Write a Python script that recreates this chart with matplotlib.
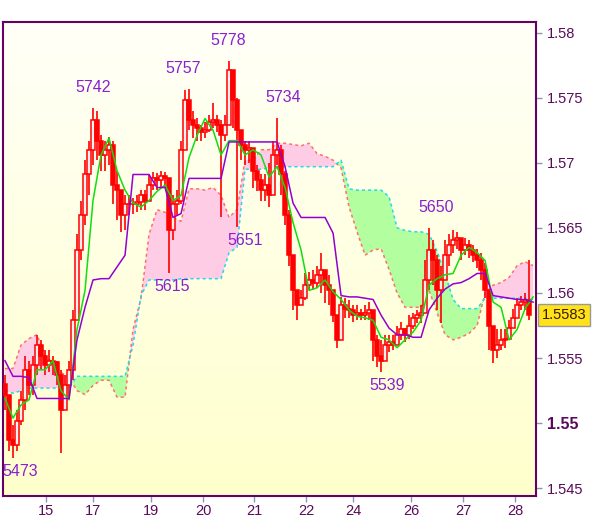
import numpy as np
import matplotlib
matplotlib.use('Agg')
import matplotlib.pyplot as plt
from matplotlib.patches import Rectangle
from matplotlib.colors import LinearSegmentedColormap

plt.rcParams['font.family'] = ['Liberation Sans', 'DejaVu Sans']

# all prices are in pips: 5522 -> 1.5522
first_open = 5530
closes = [5522, 5487, 5483, 5502, 5518, 5541, 5529, 5545, 5560, 5552,
          5545, 5548, 5547, 5537, 5510, 5529, 5541, 5579, 5633, 5660,
          5691, 5710, 5733, 5717, 5706, 5710, 5714, 5683, 5679, 5660,
          5668, 5668, 5668, 5670, 5675, 5671, 5683, 5688, 5687, 5690,
          5688, 5648, 5668, 5671, 5710, 5748, 5733, 5729, 5727, 5724,
          5725, 5731, 5733, 5729, 5721, 5729, 5771, 5748, 5725, 5714,
          5710, 5711, 5694, 5687, 5679, 5683, 5675, 5706, 5710, 5691,
          5660, 5629, 5602, 5591, 5596, 5606, 5610, 5608, 5614, 5618,
          5606, 5602, 5583, 5564, 5591, 5588, 5587, 5583, 5585, 5583,
          5585, 5587, 5564, 5552, 5548, 5560, 5562, 5560, 5568, 5572,
          5568, 5575, 5581, 5583, 5585, 5610, 5633, 5625, 5602, 5610,
          5629, 5637, 5641, 5642, 5633, 5637, 5633, 5629, 5625, 5618,
          5602, 5575, 5556, 5560, 5564, 5565, 5573, 5581, 5591, 5593,
          5595, 5583]
highs = [5537, 5519, 5499, 5510, 5525, 5552, 5548, 5552, 5568, 5564,
         5556, 5556, 5552, 5548, 5541, 5537, 5548, 5587, 5645, 5671,
         5702, 5717, 5742, 5740, 5721, 5717, 5720, 5717, 5694, 5679,
         5675, 5675, 5673, 5675, 5679, 5679, 5691, 5693, 5692, 5694,
         5693, 5687, 5675, 5679, 5717, 5756, 5757, 5740, 5734, 5729,
         5731, 5737, 5746, 5737, 5733, 5737, 5778, 5764, 5750, 5721,
         5717, 5717, 5710, 5698, 5691, 5691, 5700, 5717, 5734, 5714,
         5694, 5664, 5621, 5602, 5602, 5615, 5616, 5618, 5621, 5631,
         5618, 5614, 5596, 5583, 5597, 5596, 5595, 5591, 5591, 5588,
         5591, 5593, 5583, 5568, 5564, 5568, 5568, 5568, 5575, 5578,
         5573, 5583, 5585, 5587, 5591, 5625, 5650, 5641, 5629, 5621,
         5641, 5645, 5648, 5647, 5641, 5642, 5641, 5637, 5634, 5631,
         5623, 5598, 5572, 5572, 5572, 5572, 5579, 5588, 5596, 5598,
         5600, 5625]
lows = [5510, 5479, 5473, 5479, 5499, 5510, 5522, 5522, 5537, 5541,
        5537, 5539, 5537, 5529, 5477, 5514, 5518, 5533, 5579, 5625,
        5652, 5675, 5698, 5702, 5694, 5694, 5698, 5668, 5656, 5647,
        5648, 5660, 5661, 5662, 5664, 5664, 5671, 5679, 5679, 5681,
        5681, 5615, 5641, 5660, 5668, 5710, 5725, 5719, 5717, 5717,
        5719, 5724, 5727, 5724, 5658, 5717, 5748, 5727, 5651, 5702,
        5698, 5700, 5681, 5678, 5671, 5671, 5666, 5691, 5698, 5675,
        5652, 5621, 5587, 5579, 5591, 5595, 5602, 5602, 5604, 5600,
        5592, 5591, 5578, 5558, 5579, 5581, 5581, 5578, 5579, 5579,
        5579, 5579, 5548, 5543, 5539, 5552, 5555, 5556, 5560, 5564,
        5562, 5565, 5572, 5577, 5577, 5595, 5602, 5606, 5587, 5577,
        5614, 5621, 5631, 5634, 5625, 5629, 5627, 5624, 5619, 5610,
        5596, 5556, 5546, 5550, 5556, 5558, 5567, 5575, 5583, 5587,
        5587, 5579]

# indicator lines, one value every second bar
tenkan = [5519, 5504, 5514, 5518, 5541, 5541, 5548, 5525, 5518, 5572,
          5602, 5671, 5706, 5719, 5694, 5679, 5669, 5666, 5671, 5678,
          5683, 5671, 5675, 5704, 5721, 5734, 5725, 5706, 5717, 5717,
          5706, 5710, 5706, 5689, 5697, 5681, 5654, 5633, 5602, 5604,
          5610, 5601, 5595, 5587, 5582, 5581, 5579, 5566, 5564, 5558,
          5564, 5570, 5579, 5606, 5611, 5614, 5615, 5629, 5635, 5631,
          5625, 5593, 5589, 5564, 5572, 5588, 5597]
kijun = [5548, 5536, 5536, 5535, 5519, 5519, 5519, 5519, 5519, 5564,
         5589, 5610, 5611, 5611, 5620, 5629, 5691, 5691, 5691, 5681,
         5681, 5658, 5661, 5688, 5688, 5688, 5688, 5688, 5716, 5716,
         5716, 5716, 5716, 5716, 5716, 5697, 5669, 5658, 5658, 5658,
         5658, 5646, 5598, 5597, 5597, 5596, 5595, 5583, 5573, 5568,
         5568, 5566, 5566, 5587, 5596, 5603, 5607, 5608, 5611, 5615,
         5615, 5598, 5597, 5596, 5595, 5595, 5593]
span_a = [5542, 5542, 5560, 5565, 5568, 5552, 5546, 5539, 5535, 5525,
          5522, 5529, 5533, 5533, 5520, 5520, 5572, 5596, 5645, 5664,
          5662, 5658, 5655, 5680, 5680, 5679, 5681, 5675, 5658, 5664,
          5702, 5702, 5710, 5710, 5715, 5715, 5714, 5713, 5715, 5707,
          5705, 5702, 5696, 5666, 5647, 5629, 5633, 5634, 5618, 5600,
          5589, 5589, 5589, 5602, 5585, 5568, 5564, 5566, 5569, 5575,
          5600, 5606, 5608, 5612, 5621, 5624, 5621]
span_b = [5525, 5523, 5525, 5527, 5527, 5527, 5527, 5527, 5527, 5536,
          5536, 5536, 5536, 5536, 5536, 5536, 5560, 5598, 5610, 5610,
          5610, 5610, 5611, 5611, 5611, 5611, 5611, 5611, 5631, 5635,
          5695, 5695, 5695, 5696, 5697, 5697, 5697, 5697, 5697, 5697,
          5697, 5697, 5702, 5680, 5679, 5679, 5679, 5679, 5674, 5650,
          5648, 5647, 5647, 5645, 5632, 5615, 5595, 5588, 5588, 5588,
          5596, 5596, 5596, 5596, 5596, 5596, 5595]

day_labels = ['15', '17', '19', '20', '21', '22', '24', '26', '27', '28']
day_pos = [10.25, 22.1, 36.5, 49.6, 62.25, 75.25, 87.1, 101.5, 114.6, 127.5]

# swing highs / lows written on the chart: bar, kind, shift in px
marks = [(2, 'low', 7), (22, 'high', 0), (41, 'low', 3), (46, 'high', -6),
         (56, 'high', -1), (58, 'low', 8), (68, 'high', 6), (94, 'low', 6),
         (106, 'high', 7)]

y_ticks = [1.545, 1.55, 1.555, 1.56, 1.565, 1.57, 1.575, 1.58]


def px(v):
    return 1 + np.asarray(v, dtype=float) / 10000.


c = px(closes)
h = px(highs)
l = px(lows)
o = np.concatenate([[px(first_open)], c[:-1]])
bars = np.arange(len(c))
xl = np.arange(len(tenkan)) * 2
sa = px(span_a)
sb = px(span_b)

fig = plt.figure(figsize=(6.0, 5.19), dpi=100)
ax = fig.add_axes([0.005, 0.0443, 0.8875, 0.9133])
ax.set_xlim(-0.5, 132.6)
ax.set_ylim(1.54441, 1.58081)

# pale yellow gradient background, whiter at the top
grad = np.linspace(0, 1, 256).reshape(-1, 1)
bg = LinearSegmentedColormap.from_list('bg', ['#fffff8', '#ffffcc'])
ax.imshow(grad, cmap=bg, aspect='auto', extent=[0, 1, 0, 1],
          origin='upper', transform=ax.transAxes, zorder=0)

# cloud
ax.fill_between(xl, sa, sb, where=sa >= sb, interpolate=True,
                color='#ffcce6', lw=0, zorder=1)
ax.fill_between(xl, sa, sb, where=sb > sa, interpolate=True,
                color='#b3ff9f', lw=0, zorder=1)
ax.plot(xl, sa, color='#ff6f6f', lw=1.1, ls=(0, (2, 2)), zorder=2)
ax.plot(xl, sb, color='#22d8ee', lw=1.1, ls=(0, (2, 2)), zorder=2)

# candles
for i in bars:
    top = max(o[i], c[i])
    bot = min(o[i], c[i])
    ax.plot([i, i], [min(l[i], bot), max(h[i], top)], color='red', lw=1.2,
            zorder=3, solid_capstyle='butt')
    body = Rectangle((i - 0.4, bot), 0.8, max(top - bot, 0.00003),
                     facecolor='red' if c[i] < o[i] else '#fff0f0',
                     edgecolor='red', lw=1.1, zorder=3)
    ax.add_patch(body)

ax.plot(xl, px(tenkan), color='#11dd11', lw=1.1, zorder=4)
ax.plot(xl, px(kijun), color='#9400d3', lw=1.1, zorder=4)

for b, kind, dx in marks:
    if kind == 'high':
        val, dy, va = highs[b], 13, 'bottom'
    else:
        val, dy, va = lows[b], -6, 'top'
    ax.annotate(str(val), xy=(b, px(val)), xytext=(dx, dy),
                textcoords='offset pixels', ha='center', va=va,
                color='#8a1fd0', fontsize=11.5, zorder=5)

# axes look
for s in ax.spines.values():
    s.set_color('#660066')
    s.set_linewidth(1.5)
ax.yaxis.tick_right()
ax.set_yticks(y_ticks)
ax.set_yticklabels(['1.545', '1.55', '1.555', '1.56', '1.565', '1.57',
                    '1.575', '1.58'])
ax.set_xticks(day_pos)
ax.set_xticklabels(day_labels)
ax.tick_params(axis='both', colors='#8899aa', length=4, width=1,
               labelcolor='#5a0a5a', labelsize=10.5)
ax.tick_params(axis='y', pad=4)
ax.tick_params(axis='x', pad=1.5)
for t in ax.get_yticklabels():
    if t.get_text() == '1.55':
        t.set_fontweight('bold')
        t.set_fontsize(11.5)

ax.text(1.012, px(closes[-1]), '%.4f' % px(closes[-1]),
        transform=ax.get_yaxis_transform(), va='center', ha='left',
        fontsize=10.5, color='#3a1a00',
        bbox=dict(boxstyle='square,pad=0.25', facecolor='#ffe21a',
                  edgecolor='#999999', lw=1))

fig.savefig('out.png', dpi=100)
